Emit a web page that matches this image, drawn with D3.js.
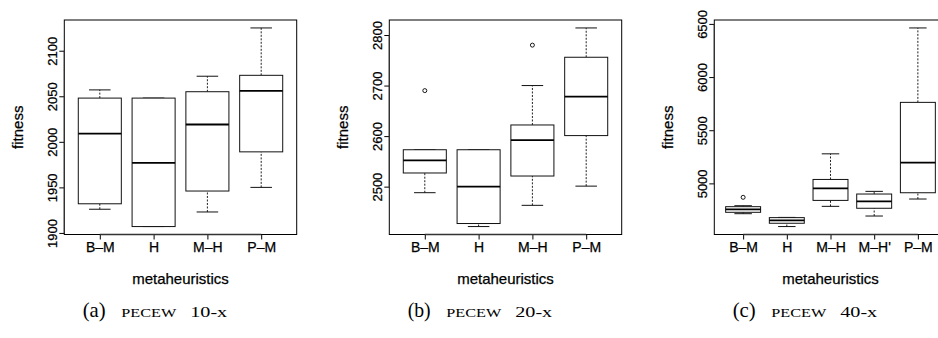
<!DOCTYPE html>
<html>
<head>
<meta charset="utf-8">
<script src="https://cdn.jsdelivr.net/npm/d3@7"></script>
<style>
  body { margin: 0; background: #fff; }
  svg { display: block; }
  .axis text { font-family: "Liberation Sans", Arial, Helvetica, sans-serif; fill: #000; stroke: #000; stroke-width: 0.25px; }
  .title { font-family: "Liberation Sans", Arial, Helvetica, sans-serif; font-size: 15px; fill: #000; stroke: #000; stroke-width: 0.25px; }
  .cap { font-family: "Liberation Serif", "DejaVu Serif", serif; fill: #000; }
</style>
</head>
<body>
<div id="chart"></div>
<script>
// categories for each panel
var catsA = ["B\u2013M", "H", "M\u2013H", "P\u2013M"];
var catsB = ["B\u2013M", "H", "M\u2013H", "P\u2013M"];
var catsC = ["B\u2013M", "H", "M\u2013H", "M\u2013H'", "P\u2013M"];

// box stats per category: [lower whisker, Q1, median, Q3, upper whisker]
var statsA = [
  [1926, 1932, 2009, 2048, 2057],
  [1907, 1907, 1977, 2048, 2048],
  [1923, 1946, 2019, 2055, 2072],
  [1950, 1989, 2056, 2073, 2125]
];
var statsB = [
  [2488, 2527, 2552, 2573, 2573],
  [2421, 2427, 2500, 2573, 2573],
  [2463, 2521, 2592, 2622, 2700],
  [2501, 2601, 2678, 2756, 2814]
];
var statsC = [
  [4715, 4728, 4756, 4781, 4790],
  [4594, 4625, 4653, 4678, 4680],
  [4784, 4840, 4953, 5037, 5278],
  [4693, 4766, 4830, 4900, 4925],
  [4853, 4912, 5195, 5762, 6462]
];

// outliers per category
var outA = [[], [], [], []];
var outB = [[2690], [], [2780], []];
var outC = [[4869], [], [], [], []];

// y tick labels
var ticksA = [1900, 1950, 2000, 2050, 2100];
var ticksB = [2500, 2600, 2700, 2800];
var ticksC = [5000, 5500, 6000, 6500];

var captionTags = ["(a)", "(b)", "(c)"];
var captionNames = ["PECEW", "PECEW", "PECEW"];
var captionSizes = ["10-x", "20-x", "40-x"];

var panels = [
  { cats: catsA, stats: statsA, out: outA, ticks: ticksA },
  { cats: catsB, stats: statsB, out: outB, ticks: ticksB },
  { cats: catsC, stats: statsC, out: outC, ticks: ticksC }
];

var W = 938, H = 338;
var svg = d3.select("#chart").append("svg").attr("width", W).attr("height", H);

// plot region of the first panel, others shifted by panelStep
var plot = { left: 64.3, top: 20, width: 232.4, height: 214.5 };
var panelStep = 325;

panels.forEach(function(p, pi) {
  var ox = plot.left + pi * panelStep;
  var g = svg.append("g").attr("transform", "translate(" + ox + "," + plot.top + ")");
  var n = p.cats.length;

  // R style: data range stretched by 4% on each side
  var all = d3.merge(p.stats.concat(p.out));
  var lo = d3.min(all), hi = d3.max(all), pad = (hi - lo) * 0.04;
  var yScale = d3.scaleLinear().domain([lo - pad, hi + pad]).range([plot.height, 0]);
  var xScale = d3.scaleLinear().domain([0.5 - 0.16, n + 0.5 + 0.16]).range([0, plot.width]);
  var unit = xScale(2) - xScale(1);
  var boxW = unit * 0.8, capW = boxW * 0.5;

  // frame
  g.append("rect")
    .attr("x", 0).attr("y", 0)
    .attr("width", plot.width).attr("height", plot.height)
    .attr("fill", "none").attr("stroke", "#000").attr("stroke-width", 1);

  // boxes
  var boxes = g.selectAll(".box").data(p.stats).enter().append("g").attr("class", "box");
  boxes.each(function(s, i) {
    var b = d3.select(this);
    var cx = xScale(i + 1);
    // dashed whiskers
    b.append("line").attr("x1", cx).attr("x2", cx)
      .attr("y1", yScale(s[0])).attr("y2", yScale(s[1]))
      .attr("stroke", "#222").attr("stroke-dasharray", "2,1.5");
    b.append("line").attr("x1", cx).attr("x2", cx)
      .attr("y1", yScale(s[3])).attr("y2", yScale(s[4]))
      .attr("stroke", "#222").attr("stroke-dasharray", "2,1.5");
    // staples
    [s[0], s[4]].forEach(function(v) {
      b.append("line").attr("x1", cx - capW / 2).attr("x2", cx + capW / 2)
        .attr("y1", yScale(v)).attr("y2", yScale(v))
        .attr("stroke", "#111").attr("stroke-width", 1);
    });
    // box
    b.append("rect")
      .attr("x", cx - boxW / 2).attr("width", boxW)
      .attr("y", yScale(s[3])).attr("height", yScale(s[1]) - yScale(s[3]))
      .attr("fill", "#fff").attr("stroke", "#111").attr("stroke-width", 1);
    // median
    b.append("line").attr("x1", cx - boxW / 2).attr("x2", cx + boxW / 2)
      .attr("y1", yScale(s[2])).attr("y2", yScale(s[2]))
      .attr("stroke", "#000").attr("stroke-width", 1.8);
    // outliers
    b.selectAll("circle").data(p.out[i]).enter().append("circle")
      .attr("cx", cx).attr("cy", function(v) { return yScale(v); })
      .attr("r", 2).attr("fill", "none").attr("stroke", "#000").attr("stroke-width", 0.9);
  });

  // y axis with rotated labels
  var yAxis = d3.axisLeft(yScale).tickValues(p.ticks).tickSize(5).tickSizeOuter(0).tickFormat(d3.format("d"));
  var ya = g.append("g").attr("class", "axis").call(yAxis);
  ya.select(".domain").remove();
  ya.append("line")
    .attr("x1", 0).attr("x2", 0)
    .attr("y1", yScale(p.ticks[0])).attr("y2", yScale(p.ticks[p.ticks.length - 1]))
    .attr("stroke", "#333").attr("stroke-width", 1.2);
  ya.selectAll(".tick line").attr("stroke", "#000");
  ya.selectAll(".tick text")
    .attr("x", 0).attr("y", -7).attr("dy", null)
    .attr("transform", "rotate(-90)")
    .attr("text-anchor", "middle")
    .style("font-size", "13px");

  // x axis
  var xAxis = d3.axisBottom(xScale).tickValues(d3.range(1, n + 1)).tickSize(5).tickSizeOuter(0)
    .tickFormat(function(d) { return p.cats[d - 1]; });
  var xa = g.append("g").attr("class", "axis").attr("transform", "translate(0," + plot.height + ")").call(xAxis);
  xa.select(".domain").remove();
  xa.append("line")
    .attr("x1", xScale(1)).attr("x2", xScale(n))
    .attr("y1", 0).attr("y2", 0)
    .attr("stroke", "#333").attr("stroke-width", 1.4);
  xa.selectAll(".tick line").attr("stroke", "#000");
  xa.selectAll(".tick text")
    .attr("y", 17.5).attr("dy", null)
    .style("font-size", "14px");

  // axis titles
  g.append("text").attr("class", "title")
    .attr("x", plot.width / 2).attr("y", 263.5)
    .attr("text-anchor", "middle")
    .text("metaheuristics");
  g.append("text").attr("class", "title")
    .attr("transform", "translate(" + (22.5 - plot.left) + "," + (plot.height / 2) + ") rotate(-90)")
    .attr("text-anchor", "middle")
    .text("fitness");

  // caption below the panel
  var cg = svg.append("g").attr("transform", "translate(" + (82.7 + pi * panelStep) + ",316.5)");
  cg.append("text").attr("class", "cap")
    .attr("x", 0).attr("y", 0)
    .attr("textLength", 23).attr("lengthAdjust", "spacingAndGlyphs")
    .style("font-size", "21px")
    .text(captionTags[pi]);
  cg.append("text").attr("class", "cap")
    .attr("x", 38.5).attr("y", 0)
    .attr("textLength", 55).attr("lengthAdjust", "spacingAndGlyphs")
    .style("font-size", "13.5px")
    .text(captionNames[pi]);
  cg.append("text").attr("class", "cap")
    .attr("x", 107.5).attr("y", 0)
    .attr("textLength", 37).attr("lengthAdjust", "spacingAndGlyphs")
    .style("font-size", "14px")
    .text(captionSizes[pi]);
});
</script>
</body>
</html>
